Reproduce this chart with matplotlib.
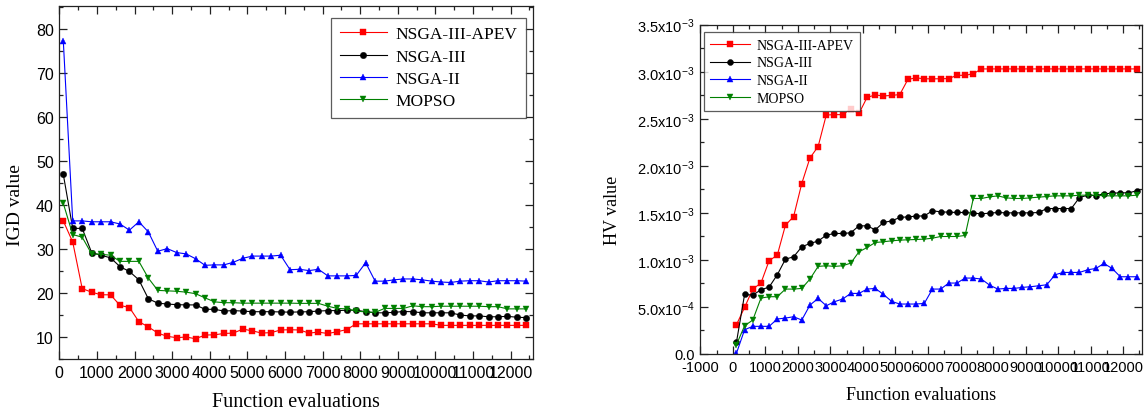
import matplotlib
matplotlib.use("Agg")
import matplotlib.pyplot as plt
from matplotlib.ticker import MultipleLocator, FuncFormatter

plt.rcParams['mathtext.fontset'] = 'custom'
plt.rcParams['mathtext.rm'] = 'Liberation Sans'
plt.rcParams['mathtext.it'] = 'Liberation Sans'
plt.rcParams['axes.unicode_minus'] = False

evals = [106, 357, 609, 860, 1111, 1363, 1614, 1865, 2116, 2368, 2619, 2870, 3122,
         3373, 3624, 3876, 4127, 4378, 4629, 4881, 5132, 5383, 5635, 5886, 6137,
         6389, 6640, 6891, 7142, 7394, 7645, 7896, 8148, 8399, 8650, 8902, 9153,
         9404, 9655, 9907, 10158, 10409, 10661, 10912, 11163, 11415, 11666, 11917,
         12168, 12420]

series_names = ["NSGA-III-APEV", "NSGA-III", "NSGA-II", "MOPSO"]

igd_apev = [36.4, 31.6, 21.0, 20.2, 19.6, 19.6, 17.2, 16.7, 13.5, 12.3, 10.9, 10.15,
            9.85, 10.0, 9.6, 10.45, 10.5, 10.8, 10.9, 11.8, 11.4, 10.9, 11.0, 11.6,
            11.65, 11.6, 10.9, 11.1, 10.8, 11.2, 11.7, 13.0, 13.0, 13.0, 13.0, 13.0,
            13.0, 13.0, 13.0, 13.0, 12.65, 12.65, 12.65, 12.65, 12.65, 12.65, 12.65,
            12.65, 12.65, 12.65]
igd_nsga3 = [47.0, 34.7, 34.7, 29.2, 28.6, 28.0, 26.0, 24.9, 23.0, 18.7, 17.7, 17.5,
             17.35, 17.3, 17.3, 16.3, 16.3, 15.9, 16.0, 15.9, 15.75, 15.75, 15.75, 15.7,
             15.65, 15.7, 15.75, 15.9, 16.0, 16.0, 16.1, 16.1, 15.75, 15.5, 15.5, 15.6,
             15.8, 15.75, 15.5, 15.5, 15.5, 15.5, 15.0, 14.8, 14.8, 14.6, 14.6, 14.7,
             14.5, 14.4]
igd_nsga2 = [77.4, 36.4, 36.4, 36.2, 36.2, 36.2, 35.7, 34.3, 36.2, 33.9, 29.5, 30.1,
             29.2, 28.9, 27.8, 26.3, 26.4, 26.4, 27.0, 27.9, 28.4, 28.4, 28.4, 28.6,
             25.3, 25.4, 25.1, 25.4, 23.9, 23.9, 23.9, 24.0, 26.9, 22.7, 22.7, 23.0,
             23.2, 23.2, 23.0, 22.7, 22.5, 22.4, 22.7, 22.8, 22.8, 22.5, 22.8, 22.8,
             22.8, 22.7]
igd_mopso = [40.4, 33.3, 32.7, 28.9, 28.8, 28.6, 27.2, 27.2, 27.2, 23.4, 20.6, 20.5,
             20.4, 20.2, 19.85, 18.9, 18.0, 17.8, 17.8, 17.7, 17.7, 17.7, 17.7, 17.7,
             17.7, 17.65, 17.65, 17.65, 17.0, 16.5, 16.4, 15.9, 15.7, 15.6, 16.5, 16.5,
             16.5, 17.1, 16.9, 16.9, 17.0, 17.0, 17.0, 17.0, 17.0, 16.9, 16.9, 16.4,
             16.4, 16.4]

# HV values in units of 1e-3
hv_apev = [0.311, 0.495, 0.69, 0.754, 0.991, 1.051, 1.369, 1.461, 1.812, 2.084, 2.205,
           2.540, 2.544, 2.544, 2.604, 2.557, 2.728, 2.753, 2.743, 2.748, 2.758, 2.919,
           2.935, 2.925, 2.925, 2.925, 2.928, 2.962, 2.962, 2.979, 3.03, 3.03, 3.03,
           3.03, 3.03, 3.03, 3.03, 3.03, 3.03, 3.03, 3.03, 3.03, 3.03, 3.03, 3.03, 3.03,
           3.03, 3.03, 3.03, 3.03]
hv_nsga3 = [0.124, 0.633, 0.626, 0.683, 0.711, 0.842, 1.008, 1.033, 1.139, 1.175, 1.20,
            1.263, 1.281, 1.281, 1.288, 1.362, 1.362, 1.32, 1.398, 1.415, 1.451, 1.458,
            1.465, 1.468, 1.522, 1.511, 1.507, 1.504, 1.504, 1.497, 1.49, 1.497, 1.504,
            1.50, 1.50, 1.50, 1.50, 1.504, 1.546, 1.546, 1.546, 1.546, 1.663, 1.688,
            1.684, 1.702, 1.709, 1.713, 1.713, 1.734]
hv_nsga2 = [0.007, 0.258, 0.294, 0.294, 0.294, 0.372, 0.382, 0.396, 0.361, 0.52, 0.591,
            0.513, 0.556, 0.584, 0.644, 0.644, 0.69, 0.697, 0.633, 0.559, 0.531, 0.531,
            0.531, 0.538, 0.69, 0.69, 0.754, 0.754, 0.807, 0.807, 0.796, 0.732, 0.69,
            0.697, 0.697, 0.708, 0.715, 0.725, 0.736, 0.842, 0.867, 0.867, 0.867, 0.895,
            0.909, 0.962, 0.909, 0.821, 0.821, 0.821]
hv_mopso = [0.099, 0.30, 0.361, 0.594, 0.609, 0.609, 0.69, 0.69, 0.697, 0.796, 0.931,
            0.938, 0.931, 0.938, 0.966, 1.086, 1.132, 1.185, 1.193, 1.203, 1.21, 1.214,
            1.217, 1.221, 1.231, 1.249, 1.249, 1.249, 1.26, 1.653, 1.653, 1.67, 1.681,
            1.66, 1.653, 1.653, 1.66, 1.667, 1.674, 1.681, 1.681, 1.681, 1.688, 1.688,
            1.688, 1.681, 1.681, 1.681, 1.681, 1.688]

colors = ['#ff0000', '#000000', '#0000ff', '#008000']
markers = ['s', 'o', '^', 'v']

SERIF = 'Liberation Serif'
SANS = 'Liberation Sans'

fig = plt.figure(figsize=(11.45, 4.14), dpi=100)
ax1 = fig.add_axes([59.3 / 1145, 54 / 414, 473.4 / 1145, 352.7 / 414])
ax2 = fig.add_axes([700 / 1145, 59 / 414, 441.7 / 1145, 329.3 / 414])


def style_axes(ax, tick_fs):
    for s in ax.spines.values():
        s.set_linewidth(0.9)
        s.set_color('#222222')
    ax.tick_params(which='both', direction='in', top=True, right=True,
                   width=0.9, colors='#222222', labelcolor='black')
    ax.tick_params(which='major', length=5.5, labelsize=tick_fs, pad=4)
    ax.tick_params(which='minor', length=3)
    for lab in ax.get_xticklabels() + ax.get_yticklabels():
        lab.set_fontfamily(SANS)


# ---- left: IGD ----
igd = [igd_apev, igd_nsga3, igd_nsga2, igd_mopso]
for name, vals, c, m in zip(series_names, igd, colors, markers):
    ax1.plot(evals, vals, color=c, lw=0.8, marker=m, markersize=4.6,
             markeredgewidth=0.3, label=name)
ax1.set_xlim(0, 12590)
ax1.set_ylim(5, 85.2)
ax1.xaxis.set_major_locator(MultipleLocator(1000))
ax1.xaxis.set_minor_locator(MultipleLocator(500))
ax1.yaxis.set_major_locator(MultipleLocator(10))
ax1.yaxis.set_minor_locator(MultipleLocator(5))
ax1.set_yticks([10, 20, 30, 40, 50, 60, 70, 80])
style_axes(ax1, 11.5)
ax1.set_xlabel("Function evaluations", fontfamily=SERIF, fontsize=14.5, labelpad=9)
ax1.set_ylabel("IGD value", fontfamily=SERIF, fontsize=14)
ax1.yaxis.set_label_coords(-0.074, 0.44)
leg1 = ax1.legend(loc='upper right', bbox_to_anchor=(0.986, 0.968),
                  prop={'family': SERIF, 'size': 12.5}, frameon=True,
                  fancybox=False, edgecolor='#333333', handlelength=2.7,
                  handletextpad=0.5, labelspacing=0.35, borderpad=0.5,
                  borderaxespad=0)
leg1.get_frame().set_linewidth(0.9)

# ---- right: HV ----
hv = [hv_apev, hv_nsga3, hv_nsga2, hv_mopso]
for name, vals, c, m in zip(series_names, hv, colors, markers):
    ax2.plot(evals, [v * 1e-3 for v in vals], color=c, lw=0.8, marker=m,
             markersize=4.3, markeredgewidth=0.3, label=name)
ax2.set_xlim(-1015, 12575)
ax2.set_ylim(0, 3.5e-3)
ax2.xaxis.set_major_locator(MultipleLocator(1000))
ax2.xaxis.set_minor_locator(MultipleLocator(500))
ax2.yaxis.set_major_locator(MultipleLocator(5e-4))
ax2.yaxis.set_minor_locator(MultipleLocator(2.5e-4))


def hv_fmt(v, pos):
    if abs(v) < 1e-12:
        return "0.0"
    e = 0
    m = v
    while abs(m) < 1:
        m *= 10
        e -= 1
    return r"$\mathregular{%.1fx10^{%d}}$" % (m, e)


ax2.yaxis.set_major_formatter(FuncFormatter(hv_fmt))
style_axes(ax2, 10.5)
ax2.set_xlabel("Function evaluations", fontfamily=SERIF, fontsize=13, labelpad=9)
ax2.set_ylabel("HV value", fontfamily=SERIF, fontsize=13)
ax2.yaxis.set_label_coords(-0.178, 0.44)
leg2 = ax2.legend(loc='upper left', bbox_to_anchor=(0.008, 0.977),
                  prop={'family': SERIF, 'size': 10}, frameon=True,
                  fancybox=False, edgecolor='#333333', handlelength=2.9,
                  handletextpad=0.5, labelspacing=0.35, borderpad=0.45,
                  borderaxespad=0)
leg2.get_frame().set_linewidth(0.9)

fig.savefig("out.png", dpi=100)
